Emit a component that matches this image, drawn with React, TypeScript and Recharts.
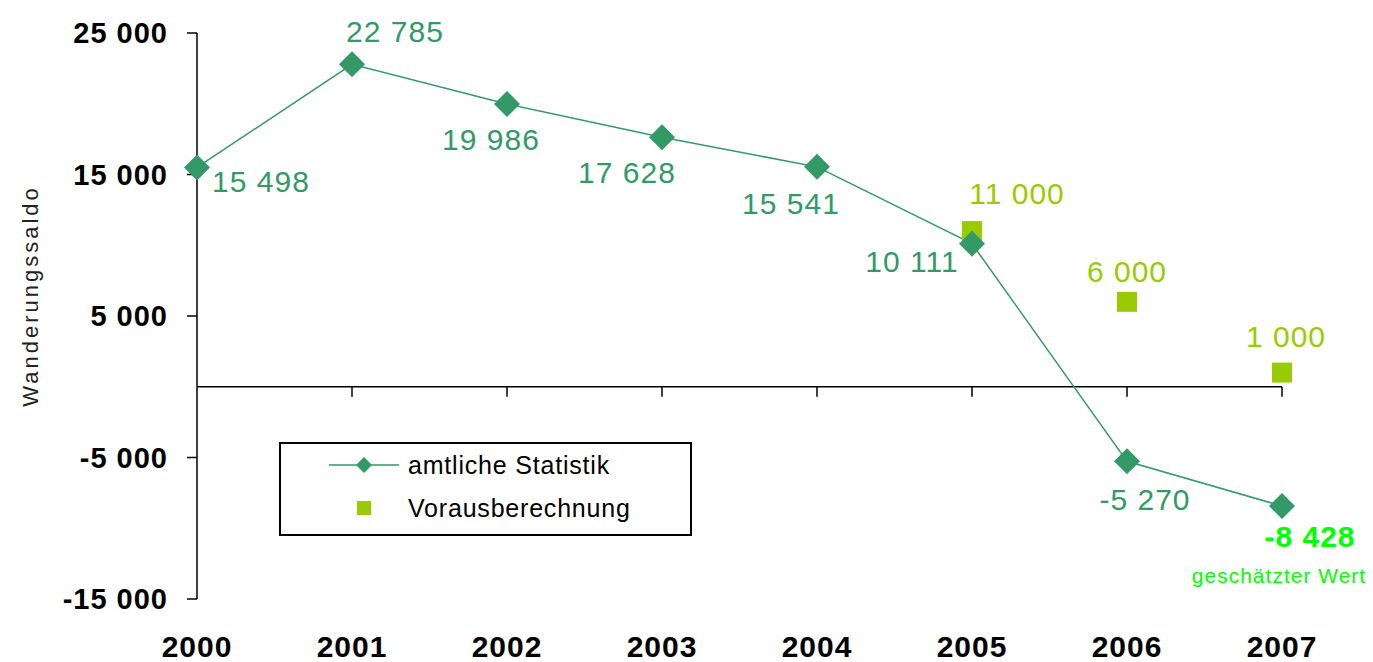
import { ComposedChart, Line, Scatter, XAxis, YAxis, ReferenceLine, Legend } from 'recharts';

const years = [2000, 2001, 2002, 2003, 2004, 2005, 2006, 2007];
const amtlicheStatistik = [15498, 22785, 19986, 17628, 15541, 10111, -5270, -8428];
const vorausYears = [2005, 2006, 2007];
const vorausberechnung = [11000, 6000, 1000];
const yTicks = [-15000, -5000, 5000, 15000, 25000];

// label centre offsets from each marker (px)
const amtlichLabelOffsets = [[64, 14], [43, -33], [-16, 36], [-35, 35], [-26, 37], [-60, 18], [18, 38], [28, 30]];
const vorausLabelOffsets = [[45, -38], [0, -30], [4, -36]];

const lineData = years.map((year, i) => ({ year, amtlich: amtlicheStatistik[i] }));
const scatterData = vorausYears.map((year, i) => ({ year, voraus: vorausberechnung[i] }));

const GREEN = '#339966';
const LIME = '#99CC00';
const FONT = '"Liberation Sans", Arial, sans-serif';

const fmt = (v: number) =>
  (v < 0 ? '-' : '') + String(Math.abs(v)).replace(/\B(?=(\d{3})+(?!\d))/g, ' ');

const renderDiamond = (props: any) => {
  const { cx, cy, index, payload } = props;
  const [dx, dy] = amtlichLabelOffsets[index];
  const last = index === years.length - 1;
  const r = 13;
  return (
    <g key={`dia-${index}`}>
      <polygon points={`${cx},${cy - r} ${cx + r},${cy} ${cx},${cy + r} ${cx - r},${cy}`} fill={GREEN} />
      <text
        x={cx + dx}
        y={cy + dy}
        dy="0.35em"
        textAnchor="middle"
        fontSize={30}
        letterSpacing={1}
        fontWeight={last ? 'bold' : 'normal'}
        fill={last ? '#00FF00' : GREEN}
      >
        {fmt(payload.amtlich)}
      </text>
      {last && (
        <text x={cx - 3} y={cy + 70} dy="0.35em" textAnchor="middle" fontSize={21} letterSpacing={1} fill="#00FF00">
          geschätzter Wert
        </text>
      )}
    </g>
  );
};

const renderSquare = (props: any) => {
  const { cx, cy, index, payload } = props;
  const [dx, dy] = vorausLabelOffsets[index];
  return (
    <g key={`sq-${index}`}>
      <rect x={cx - 10} y={cy - 10} width={20} height={20} fill={LIME} />
      <text x={cx + dx} y={cy + dy} dy="0.35em" textAnchor="middle" fontSize={30} letterSpacing={1} fill={LIME}>
        {fmt(payload.voraus)}
      </text>
    </g>
  );
};

const LegendBox = () => (
  <svg width={413} height={94} style={{ display: 'block', fontFamily: FONT }}>
    <rect x={1} y={1} width={411} height={92} fill="#fff" stroke="#000" strokeWidth={2} />
    <line x1={50} y1={23} x2={120} y2={23} stroke={GREEN} strokeWidth={1.5} />
    <polygon points="85,15 93,23 85,31 77,23" fill={GREEN} />
    <text x={129} y={23} dy="0.35em" fontSize={25} letterSpacing={0.8} fill="#000">amtliche Statistik</text>
    <rect x={78} y={59} width={14} height={14} fill={LIME} />
    <text x={129} y={66} dy="0.35em" fontSize={25} letterSpacing={0.8} fill="#000">Vorausberechnung</text>
  </svg>
);

export default function App() {
  return (
    <div style={{ position: 'absolute', left: 0, top: 0, width: 1373, height: 662, background: '#fff', fontFamily: FONT }}>
      <ComposedChart
        width={1373}
        height={662}
        margin={{ top: 33, right: 91, bottom: 0, left: 0 }}
        style={{ overflow: 'visible' }}
      >
        <XAxis
          dataKey="year"
          type="number"
          domain={[2000, 2007]}
          ticks={years}
          interval={0}
          axisLine={false}
          tickLine={false}
          tickSize={0}
          tickMargin={37}
          height={63}
          tick={{ fill: '#000', fontSize: 30, fontWeight: 'bold', letterSpacing: 1 }}
        />
        <YAxis
          type="number"
          domain={[-15000, 25000]}
          ticks={yTicks}
          interval={0}
          width={197}
          tickSize={10}
          tickMargin={19}
          tickFormatter={fmt}
          axisLine={{ stroke: '#000', strokeWidth: 1.5 }}
          tickLine={{ stroke: '#000', strokeWidth: 1.5 }}
          tick={{ fill: '#000', fontSize: 29, fontWeight: 'bold', letterSpacing: 1 }}
          label={{
            content: () => (
              <text
                x={30}
                y={296}
                transform="rotate(-90, 30, 296)"
                dy="0.35em"
                textAnchor="middle"
                fontSize={22}
                letterSpacing={3}
                fill="#222"
              >
                Wanderungssaldo
              </text>
            ),
          }}
        />
        <ReferenceLine y={0} stroke="#000" strokeWidth={1.5} />
        {years.slice(1).map((yr) => (
          <ReferenceLine
            key={yr}
            segment={[{ x: yr, y: 0 }, { x: yr, y: -700 }]}
            stroke="#000"
            strokeWidth={1.5}
          />
        ))}
        <Legend
          layout="vertical"
          align="center"
          verticalAlign="middle"
          wrapperStyle={{ left: 279, top: 442, width: 413, height: 94 }}
          content={() => <LegendBox />}
        />
        <Scatter data={scatterData} dataKey="voraus" shape={renderSquare} isAnimationActive={false} />
        <Line
          data={lineData}
          dataKey="amtlich"
          stroke={GREEN}
          strokeWidth={1.5}
          dot={renderDiamond}
          activeDot={false}
          isAnimationActive={false}
        />
      </ComposedChart>
    </div>
  );
}
